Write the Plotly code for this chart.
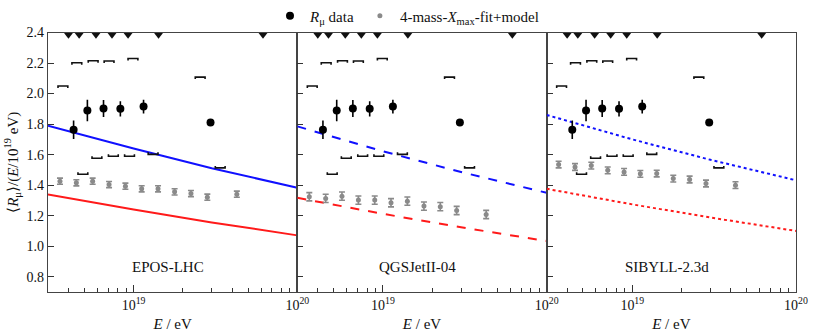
import numpy as np
import plotly.graph_objects as go
from plotly.subplots import make_subplots

# ----------------------
# DATA
# ----------------------
# R_mu data points (same in every panel)
data_E = [4.30e18, 5.22e18, 6.55e18, 8.30e18, 1.15e19, 2.95e19]
data_R = [1.763, 1.889, 1.902, 1.900, 1.915, 1.810]
data_err = [0.060, 0.070, 0.056, 0.050, 0.045, 0.020]

# systematic brackets (upper shifted to lower E, lower shifted to higher E)
sys_up_E = [3.70e18, 4.50e18, 5.66e18, 7.08e18, 9.91e18, 2.55e19]
sys_up_R = [2.050, 2.202, 2.215, 2.213, 2.230, 2.108]
sys_lo_E = [4.90e18, 5.97e18, 7.52e18, 9.44e18, 1.315e19, 3.38e19]
sys_lo_R = [1.471, 1.576, 1.589, 1.589, 1.602, 1.513]

# upper-limit triangles at the top edge
tri_E = [4.00e18, 4.65e18, 5.89e18, 7.38e18, 9.25e18, 1.42e19, 6.17e19]
tri_R = [2.385, 2.385, 2.385, 2.385, 2.385, 2.385, 2.385]

# 4-mass-Xmax-fit+model points
fit_E = [3.55e18, 4.47e18, 5.62e18, 7.08e18, 8.91e18, 1.12e19,
         1.41e19, 1.78e19, 2.24e19, 2.82e19, 4.27e19]
fit_R_epos = [1.426, 1.415, 1.426, 1.404, 1.393, 1.376, 1.376, 1.356, 1.345, 1.321, 1.341]
fit_R_qgs = [1.324, 1.313, 1.328, 1.302, 1.302, 1.285, 1.295, 1.263, 1.259, 1.234, 1.208]
fit_R_sib = [1.535, 1.519, 1.528, 1.497, 1.487, 1.474, 1.476, 1.443, 1.437, 1.411, 1.400]
fit_err_epos = [0.020] * 11
fit_err_qgs = [0.027] * 11
fit_err_sib = [0.022] * 11

# model lines (proton / iron), read at a few energies
line_E = [3e18, 1e19, 3e19, 1e20]
blue_epos = [1.789, 1.640, 1.511, 1.383]
red_epos = [1.339, 1.240, 1.156, 1.071]
blue_qgs = [1.785, 1.622, 1.486, 1.350]
red_qgs = [1.317, 1.212, 1.124, 1.034]
blue_sib = [1.860, 1.700, 1.566, 1.432]
red_sib = [1.376, 1.274, 1.188, 1.100]

models = ["EPOS-LHC", "QGSJetII-04", "SIBYLL-2.3d"]
fit_R = [fit_R_epos, fit_R_qgs, fit_R_sib]
fit_err = [fit_err_epos, fit_err_qgs, fit_err_sib]
blue_lines = [blue_epos, blue_qgs, blue_sib]
red_lines = [red_epos, red_qgs, red_sib]
dashes = ["solid", "dash", "dot"]

y_ticks = [0.8, 1.0, 1.2, 1.4, 1.6, 1.8, 2.0, 2.2, 2.4]
x_major = [1e19, 1e20]
x_major_text = ["10<sup>19</sup>", "10<sup>20</sup>"]
x_minor = [3e18, 4e18, 5e18, 6e18, 7e18, 8e18, 9e18,
           2e19, 3e19, 4e19, 5e19, 6e19, 7e19, 8e19, 9e19]

FONT = "Liberation Serif"


def bracket_path(energies, values, down):
    # horizontal bar with small end ticks pointing towards the data point
    hw = 0.03
    tk = -0.013 if down else 0.013
    xs, ys = [], []
    for e, v in zip(energies, values):
        lo, hi = e * 10 ** (-hw), e * 10 ** hw
        xs += [lo, lo, hi, hi, None]
        ys += [v + tk, v, v, v + tk, None]
    return xs, ys


fig = make_subplots(rows=1, cols=3, shared_yaxes=True, horizontal_spacing=0)

for i in range(3):
    col = i + 1
    first = i == 0

    fig.add_trace(go.Scatter(
        x=line_E, y=blue_lines[i], mode="lines",
        line=dict(color="#1010ff", width=2, dash=dashes[i]),
        showlegend=False, hoverinfo="skip"), row=1, col=col)
    fig.add_trace(go.Scatter(
        x=line_E, y=red_lines[i], mode="lines",
        line=dict(color="#ff1a1a", width=2, dash=dashes[i]),
        showlegend=False, hoverinfo="skip"), row=1, col=col)

    for energies, vals, down in [(sys_up_E, sys_up_R, True), (sys_lo_E, sys_lo_R, False)]:
        bx, by = bracket_path(energies, vals, down)
        fig.add_trace(go.Scatter(
            x=bx, y=by, mode="lines",
            line=dict(color="#111111", width=1.6),
            showlegend=False, hoverinfo="skip"), row=1, col=col)

    fig.add_trace(go.Scatter(
        x=tri_E, y=tri_R, mode="markers",
        marker=dict(symbol="triangle-down", size=8, color="#111111"),
        cliponaxis=False, showlegend=False), row=1, col=col)

    fig.add_trace(go.Scatter(
        x=fit_E, y=fit_R[i], mode="markers",
        marker=dict(symbol="circle", size=5, color="#8a8a8a"),
        error_y=dict(type="data", array=fit_err[i], color="#8a8a8a",
                     thickness=1.6, width=3),
        name="4-mass-<i>X</i><sub>max</sub>-fit+model",
        showlegend=first), row=1, col=col)

    fig.add_trace(go.Scatter(
        x=data_E, y=data_R, mode="markers",
        marker=dict(symbol="circle", size=8, color="#000000"),
        error_y=dict(type="data", array=data_err, color="#000000",
                     thickness=1.6, width=0),
        name="<i>R</i><sub>μ</sub> data",
        showlegend=first), row=1, col=col)

    xref = "x" if first else f"x{col}"
    yref = "y" if first else f"y{col}"
    fig.add_annotation(
        x=np.log10(1.62e19), y=0.865, xref=xref, yref=yref,
        text=models[i], showarrow=False,
        font=dict(family=FONT, size=15, color="#111111"))

    fig.update_xaxes(
        type="log", range=[np.log10(3e18), 20],
        tickvals=x_major, ticktext=x_major_text,
        ticks="inside", ticklen=7, tickcolor="#333333",
        minor=dict(tickvals=x_minor, ticks="inside", ticklen=4, tickcolor="#333333",
                   showgrid=False),
        showgrid=False, zeroline=False, automargin=False,
        showline=True, mirror=True, linecolor="#444444", linewidth=1.3,
        title=dict(text="<i>E</i> / eV", standoff=6,
                   font=dict(family=FONT, size=15, color="#111111")),
        tickfont=dict(family=FONT, size=14, color="#111111"),
        row=1, col=col)

    fig.update_yaxes(
        range=[0.7, 2.4], tickvals=y_ticks, tickformat=".1f",
        ticks="inside", ticklen=6, tickcolor="#333333",
        showticklabels=first,
        showgrid=False, zeroline=False, automargin=False,
        showline=True, mirror=True, linecolor="#444444", linewidth=1.3,
        tickfont=dict(family=FONT, size=14, color="#111111"),
        row=1, col=col)

fig.update_yaxes(
    title=dict(text="⟨<i>R</i><sub>μ</sub>⟩/(<i>E</i>/10<sup>19</sup> eV)", standoff=4,
               font=dict(family=FONT, size=15, color="#111111")),
    row=1, col=1)

fig.update_layout(
    width=814, height=334,
    margin=dict(l=48, r=18, t=32, b=42),
    paper_bgcolor="white",
    plot_bgcolor="white",
    font=dict(family=FONT, color="#111111"),
    legend=dict(
        orientation="h",
        xref="container", yref="container",
        x=0.5, xanchor="center",
        y=0.952, yanchor="middle",
        traceorder="reversed",
        itemwidth=30,
        font=dict(family=FONT, size=15),
        bgcolor="rgba(0,0,0,0)",
    ),
)

# page body has a default 8px margin; drop it so the figure fills the window
fig.write_html("out.html", config={"displayModeBar": False},
               post_script="document.body.style.margin = '0px';")
